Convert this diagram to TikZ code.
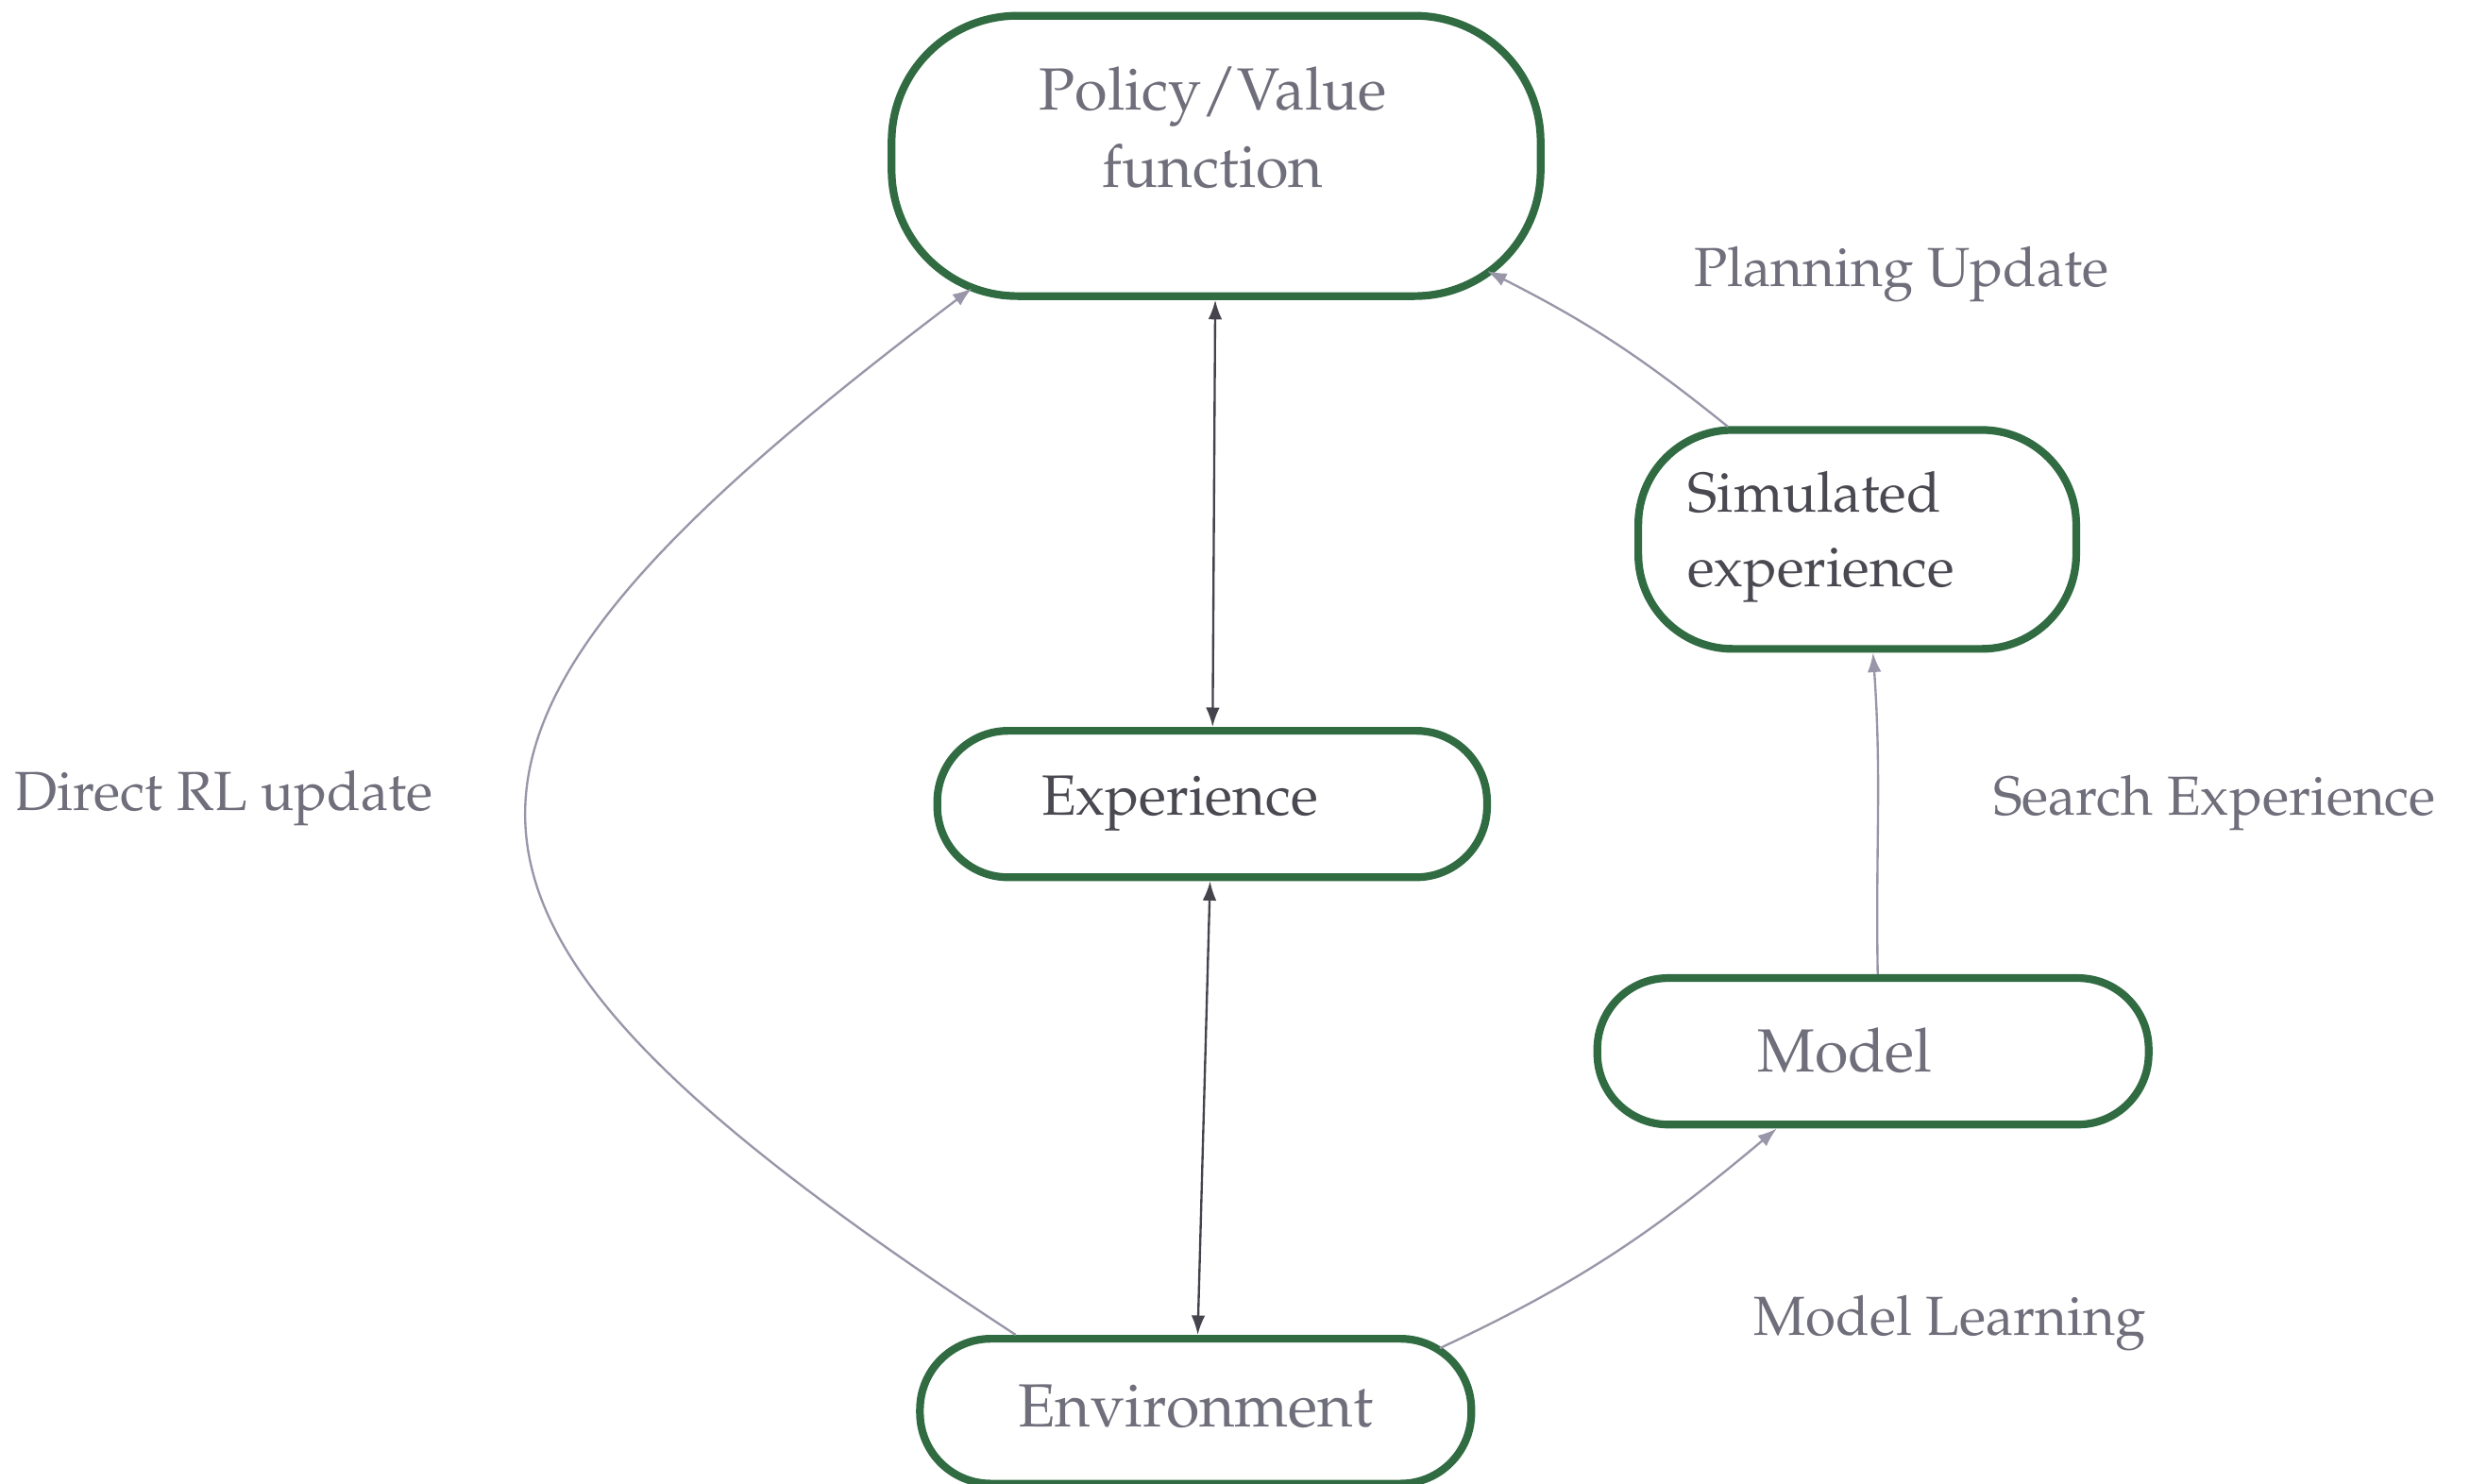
\documentclass[tikz,border=0pt]{standalone}
\usepackage[T1]{fontenc}
\usepackage{mathpazo}
\usetikzlibrary{arrows.meta}
\definecolor{boxgreen}{RGB}{48,107,66}
\definecolor{textgray}{RGB}{111,110,123}
\definecolor{textdark}{RGB}{74,73,81}
\definecolor{arrowdark}{RGB}{69,68,76}
\definecolor{arrowlight}{RGB}{152,150,168}
\tikzset{
    stage/.style={
           rectangle,
           draw=boxgreen, line width=2.8pt,
           rounded corners=0.9cm,
           minimum width=7cm, minimum height=1.86cm,
           },
}
\tikzset{
    inside/.style={
           inner sep=0pt,
           text=textgray,
           font=\fontsize{22}{28}\selectfont,
           },
    tag/.style={
           anchor=west, inner sep=0pt,
           text=textgray,
           font=\fontsize{19.9}{26}\selectfont,
           },
    linkdark/.style={
           draw=arrowdark, line width=0.8pt,
           {Latex[length=7pt,width=5pt]}-{Latex[length=7pt,width=5pt]},
           },
    linklight/.style={
           draw=arrowlight, line width=0.8pt,
           -{Latex[length=7pt,width=5pt]},
           },
}

\begin{document}
\begin{tikzpicture}
\useasboundingbox (0,0) rectangle (31.36,18.84);
% boxes
\node[stage,minimum width=8.24cm,minimum height=3.56cm,rounded corners=1.6cm](policy) at (15.44,16.86){};
\node[stage,minimum width=5.56cm,minimum height=2.78cm,rounded corners=1.2cm](sim) at (23.58,11.99){};
\node[stage,minimum width=6.98cm](exp) at (15.39,8.63){};
\node[stage](model) at (23.78,5.49){};
\node[stage,minimum height=1.84cm](env) at (15.18,0.92){};
% box texts
\node[inside,align=center,font=\fontsize{21.5}{28}\selectfont](policytext) at (15.4,17.22){Policy/Value\\function};
\node[inside,anchor=west,align=left,text=textdark,font=\fontsize{20.3}{27}\selectfont](simtext) at (21.42,12.02){Simulated\\experience};
\node[inside,text=textdark,font=\fontsize{20.5}{26}\selectfont](exptext) at (14.98,8.64){Experience};
\node[inside](modeltext) at (23.42,5.5){Model};
\node[inside](envtext) at (15.18,0.98){Environment};
% labels
\node[tag](planning) at (21.5,15.36){Planning Update};
\node[tag](direct) at (0.18,8.7){Direct RL update};
\node[tag](search) at (25.3,8.64){Search Experience};
\node[tag](learning) at (22.26,2.04){Model Learning};
% arrows
\draw[linkdark] (policy) -- (exp);
\draw[linkdark] (exp) -- (env);
\draw[linklight] (env.157) .. controls +(-8.2,5.36) and +(-7.6,-5.74) .. ([shift={(-3.1,-1.68)}]policy.center);
\draw[linklight] ([shift={(3.1,0.8)}]env.center) to[out=25,in=-140] ([xshift=-1.22cm]model.south);
\draw[linklight] ([xshift=0.06cm]model.north) to[out=91,in=-86] ([xshift=0.2cm]sim.south);
\draw[linklight] ([shift={(-1.64,1.43)}]sim.center) to[bend right=6] ([shift={(3.44,-1.46)}]policy.center);
\end{tikzpicture}
\end{document}
